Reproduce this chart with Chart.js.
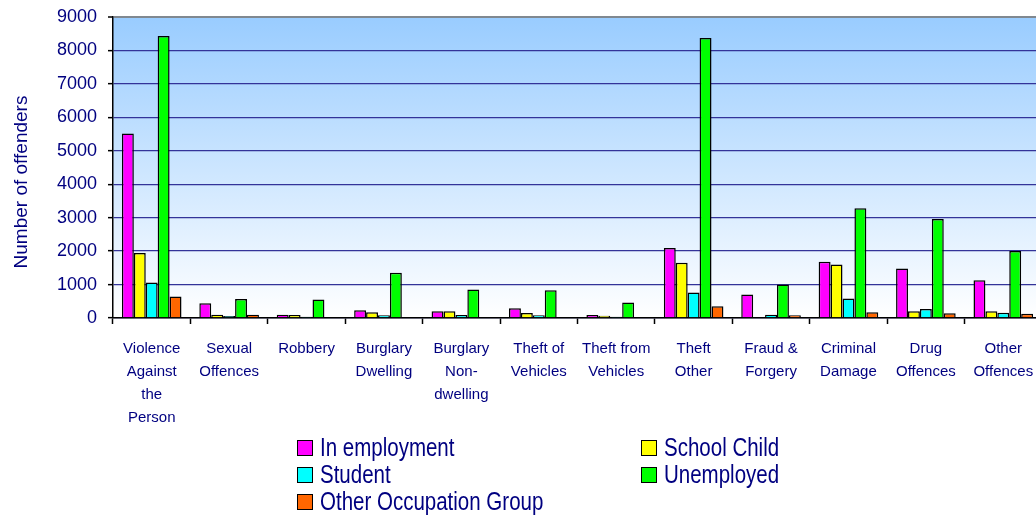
<!DOCTYPE html>
<html>
<head>
<meta charset="utf-8">
<script src="https://cdn.jsdelivr.net/npm/chart.js@4.4.0/dist/chart.umd.min.js"></script>
<style>
  body { margin: 0; overflow: hidden; background: #fff; }
  #wrap { position: relative; width: 1050px; height: 519px; }
  #legend { position: absolute; left: 297px; top: 434px; width: 560px;
    display: grid; grid-template-columns: 344px 200px; grid-auto-rows: 27px;
    font-family: "Liberation Sans", Arial, sans-serif;
    font-size: 25px; color: #000080; }
  .item { display: flex; align-items: center; white-space: nowrap; line-height: 27px; }
  .box { width: 14px; height: 14px; border: 1.5px solid #000; margin-right: 7px; flex: none; }
  .txt { display: inline-block; transform: scaleX(0.82); transform-origin: left center; }
</style>
</head>
<body>
<div id="wrap">
  <canvas id="chart" width="1050" height="519"></canvas>
  <div id="legend"></div>
</div>
<script>
    // Data
    const offences = [
        ['Violence', 'Against', 'the', 'Person'],
        ['Sexual', 'Offences'],
        'Robbery',
        ['Burglary', 'Dwelling'],
        ['Burglary', 'Non-', 'dwelling'],
        ['Theft of', 'Vehicles'],
        ['Theft from', 'Vehicles'],
        ['Theft', 'Other'],
        ['Fraud &', 'Forgery'],
        ['Criminal', 'Damage'],
        ['Drug', 'Offences'],
        ['Other', 'Offences']
    ];

    const inEmployment = [5520, 440, 100, 230, 200, 290, 90, 2090, 700, 1680, 1480, 1130];
    const schoolChild = [1940, 100, 90, 170, 200, 150, 70, 1650, 30, 1600, 200, 200];
    const student = [1060, 60, 40, 80, 90, 80, 40, 760, 100, 580, 270, 160];
    const unemployed = [8430, 570, 550, 1350, 850, 830, 460, 8370, 1000, 3280, 2960, 2000];
    const otherGroup = [640, 100, 20, 20, 20, 20, 20, 350, 80, 170, 140, 130];

    const yTicks = [0, 1000, 2000, 3000, 4000, 5000, 6000, 7000, 8000, 9000];

    const navy = '#000080';
    const fontFamily = '"Liberation Sans", Arial, sans-serif';

    const series = [
        { label: 'In employment', data: inEmployment, color: '#FF00FF' },
        { label: 'School Child', data: schoolChild, color: '#FFFF00' },
        { label: 'Student', data: student, color: '#00FFFF' },
        { label: 'Unemployed', data: unemployed, color: '#00FF00' },
        { label: 'Other Occupation Group', data: otherGroup, color: '#FF6600' }
    ];

    // plot background gradient
    const plotBackground = {
        id: 'plotBackground',
        beforeDraw(chart) {
            const { ctx, chartArea: a } = chart;
            const g = ctx.createLinearGradient(0, a.top, 0, a.bottom);
            g.addColorStop(0, '#99CCFF');
            g.addColorStop(1, '#FFFFFF');
            ctx.save();
            ctx.fillStyle = g;
            ctx.fillRect(a.left, a.top, a.right - a.left, a.bottom - a.top);
            ctx.restore();
        }
    };

    // y axis title, placed where the original has it
    const yTitle = {
        id: 'yTitle',
        afterDraw(chart) {
            const { ctx } = chart;
            ctx.save();
            ctx.translate(22, 182);
            ctx.rotate(-Math.PI / 2);
            ctx.font = '19px ' + fontFamily;
            ctx.fillStyle = navy;
            ctx.textAlign = 'center';
            ctx.textBaseline = 'middle';
            ctx.fillText('Number of offenders', 0, 0);
            ctx.restore();
        }
    };

    const chart = new Chart(document.getElementById('chart'), {
        type: 'bar',
        data: {
            labels: offences,
            datasets: series.map(s => ({
                label: s.label,
                data: s.data,
                backgroundColor: s.color,
                borderColor: '#000000',
                borderWidth: 1.5,
                borderSkipped: 'bottom',
                categoryPercentage: 0.77,
                barPercentage: 1
            }))
        },
        options: {
            responsive: false,
            animation: false,
            layout: { padding: { top: 17, right: 8, left: 0, bottom: 0 } },
            plugins: {
                legend: { display: false },
                tooltip: { enabled: false }
            },
            scales: {
                x: {
                    afterFit(scale) {
                        scale.height = 201;
                        scale.paddingLeft = 0;
                        scale.paddingRight = 0;
                    },
                    grid: {
                        drawOnChartArea: false,
                        drawTicks: true,
                        tickLength: 6,
                        tickColor: '#000000',
                        tickWidth: 1.5
                    },
                    border: { color: '#000000', width: 1.5 },
                    ticks: {
                        color: navy,
                        padding: 13.5,
                        maxRotation: 0,
                        autoSkip: false,
                        font: { family: fontFamily, size: 15, lineHeight: 1.53 }
                    }
                },
                y: {
                    min: 0,
                    max: 9000,
                    afterFit(scale) {
                        scale.width = 113;
                        scale.paddingTop = 0;
                        scale.paddingBottom = 0;
                    },
                    afterBuildTicks(scale) { scale.ticks = yTicks.map(v => ({ value: v })); },
                    grid: {
                        color: ctx => ctx.tick && ctx.tick.value === 9000 ? '#808890' : '#333399',
                        lineWidth: ctx => ctx.tick && ctx.tick.value === 9000 ? 2 : 1.3,
                        tickColor: '#000000',
                        tickLength: 5,
                        tickWidth: 1.5
                    },
                    border: { color: '#000000', width: 1.5 },
                    ticks: {
                        color: navy,
                        padding: 11,
                        callback: v => String(v),
                        font: { family: fontFamily, size: 18 }
                    }
                }
            }
        },
        plugins: [plotBackground, yTitle]
    });

    // two-column legend as in the original
    const legend = document.getElementById('legend');
    chart.data.datasets.forEach(ds => {
        const item = document.createElement('div');
        item.className = 'item';
        const box = document.createElement('span');
        box.className = 'box';
        box.style.background = ds.backgroundColor;
        const txt = document.createElement('span');
        txt.className = 'txt';
        txt.textContent = ds.label;
        item.appendChild(box);
        item.appendChild(txt);
        legend.appendChild(item);
    });
</script>
</body>
</html>
